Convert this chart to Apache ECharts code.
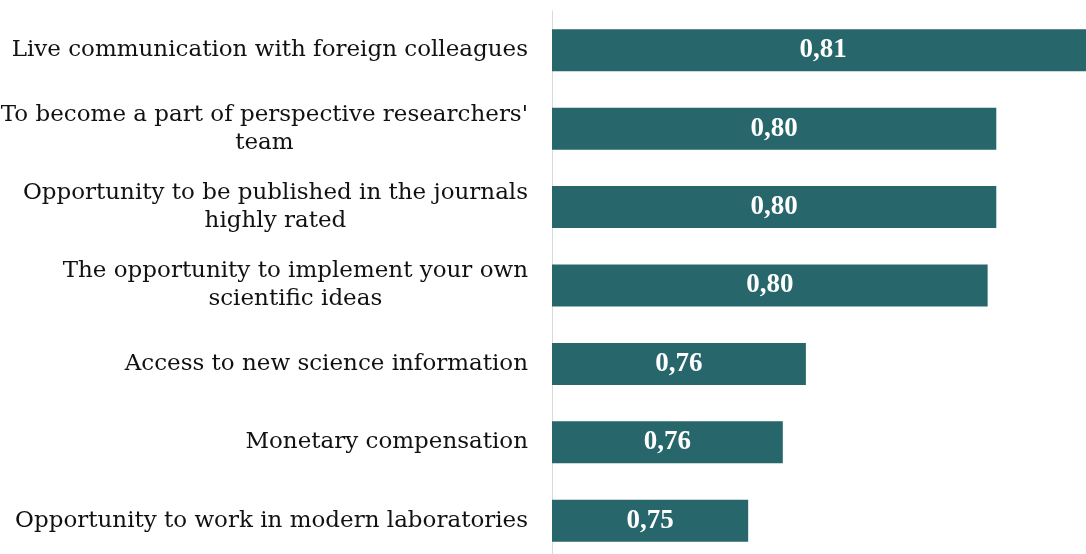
<!DOCTYPE html>
<html>
<head>
<meta charset="utf-8">
<script src="https://cdn.jsdelivr.net/npm/echarts@6/dist/echarts.min.js"></script>
<style>
  html, body { margin: 0; padding: 0; background: #fff; }
  #chart { width: 1086px; height: 554px; }
</style>
</head>
<body>
<div id="chart"></div>
<script>
    // categories, top to bottom
    var categories = [
        "Live communication with foreign colleagues",
        "To become a part of perspective researchers'\nteam",
        "Opportunity to be published in the journals\nhighly rated",
        "The opportunity to implement your own\nscientific ideas",
        "Access to new science information",
        "Monetary compensation",
        "Opportunity to work in modern laboratories"
    ];
    // values
    var values = [0.814, 0.797, 0.797, 0.7955, 0.764, 0.760, 0.754];

    var myChart = echarts.init(document.getElementById('chart'));

    var option = {
        animation: false,
        grid: {
            left: 552,
            top: 11,
            width: 577,   // runs past the right edge, first bar gets cut
            height: 549,
            outerBoundsMode: 'none'
        },
        xAxis: {
            type: 'value',
            min: 0.72,
            max: 0.82,
            show: false
        },
        yAxis: {
            type: 'category',
            inverse: true,
            data: categories,
            axisLine: {
                show: true,
                lineStyle: {color: '#d9d9d9', width: 1}
            },
            axisTick: {show: false},
            axisLabel: {
                margin: 24,
                color: '#111111',
                fontFamily: 'DejaVu Serif',
                fontSize: 23,
                lineHeight: 28,
                // each line centred inside the right-aligned block
                formatter: function (val) {
                    return val.split('\n').map(function (s) {
                        return '{c|' + s + '}';
                    }).join('\n');
                },
                rich: {
                    c: {
                        align: 'center',
                        fontFamily: 'DejaVu Serif',
                        fontSize: 23,
                        lineHeight: 28,
                        color: '#111111'
                    }
                }
            }
        },
        series: [{
            type: 'bar',
            data: values,
            barWidth: 42,
            itemStyle: {color: '#27666a'},
            label: {
                show: true,
                position: 'inside',
                color: '#ffffff',
                fontFamily: 'Liberation Serif',
                fontWeight: 'bold',
                fontSize: 27,
                formatter: function (p) {
                    return p.value.toFixed(2).replace('.', ',');
                }
            }
        }]
    };

    myChart.setOption(option);
</script>
</body>
</html>
